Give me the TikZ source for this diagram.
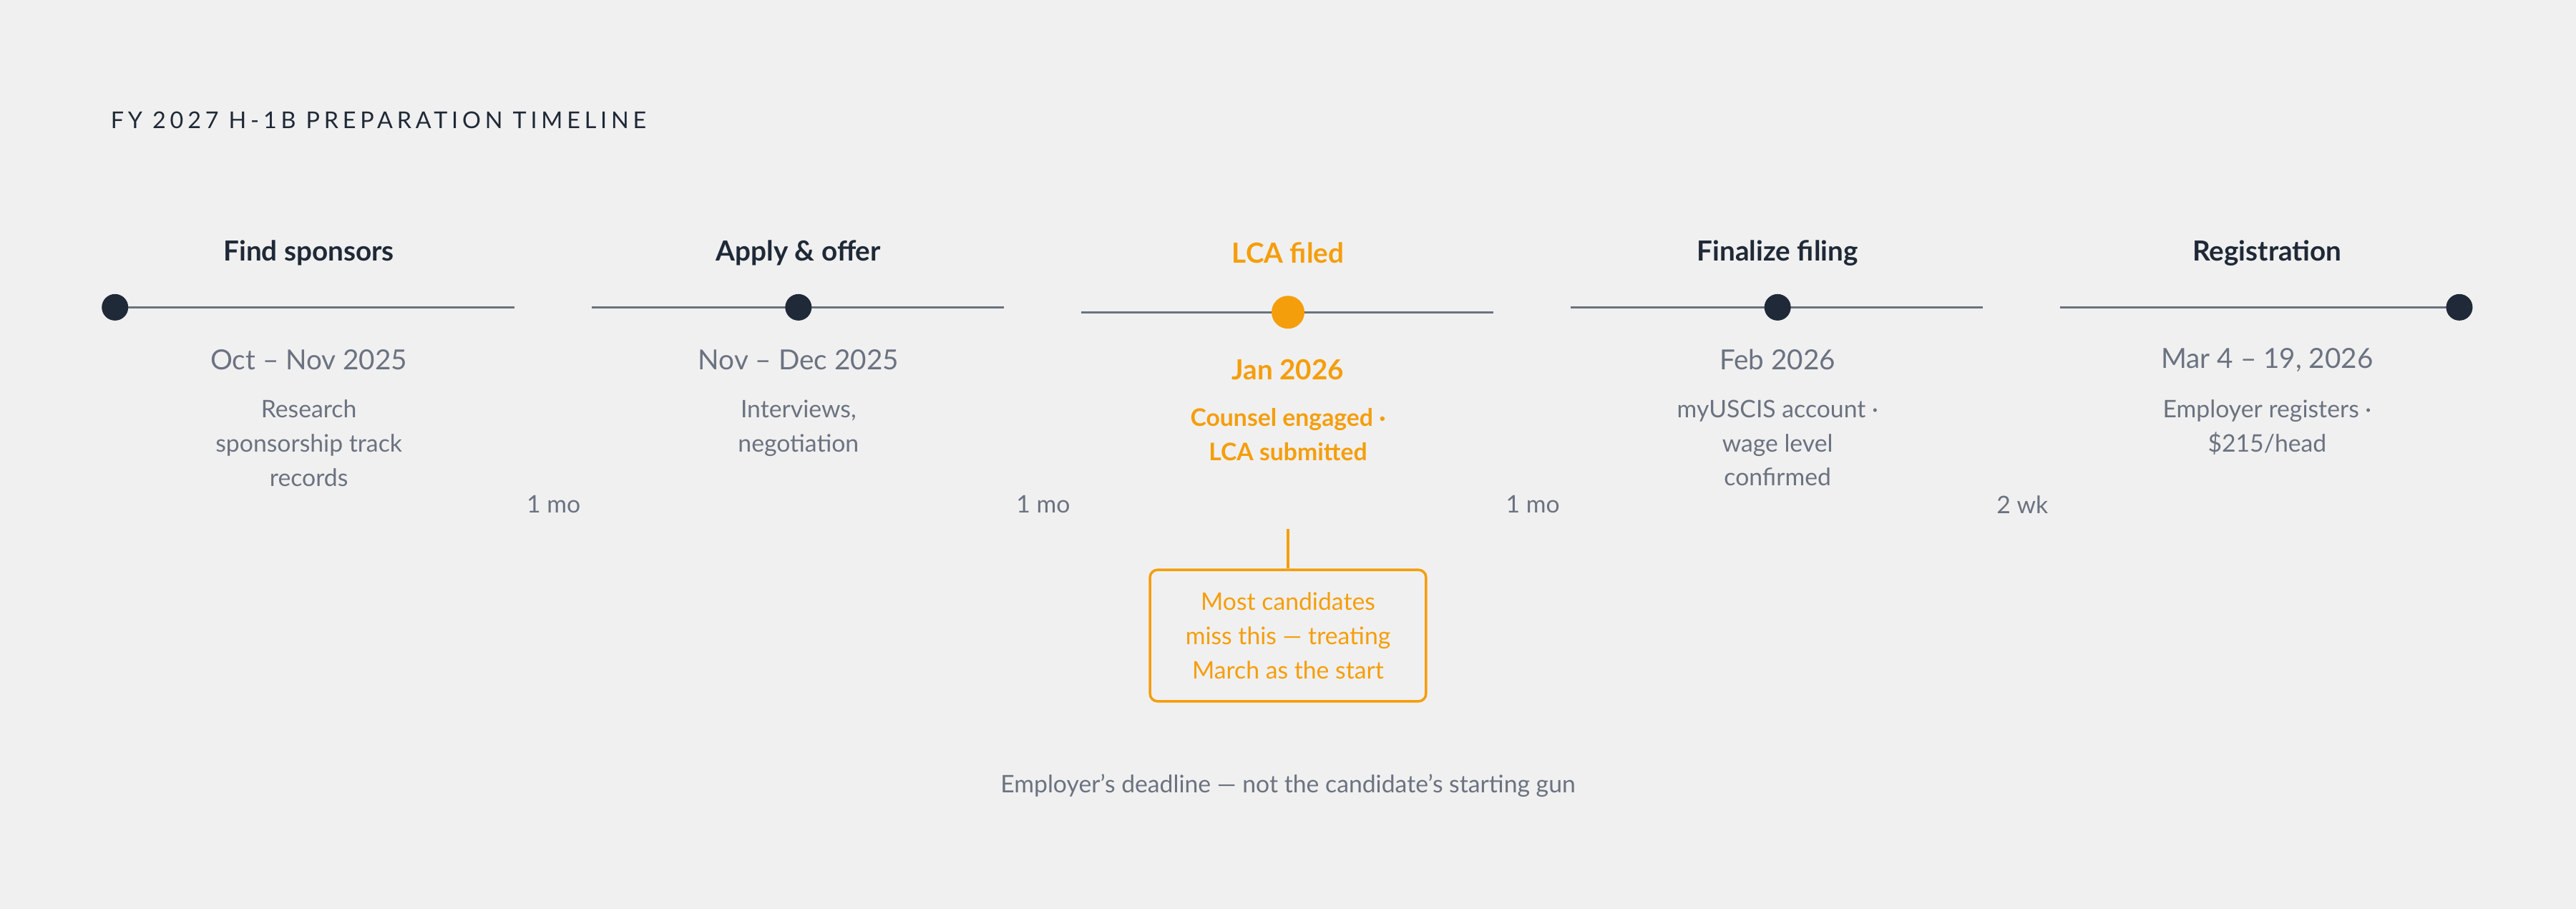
\documentclass[tikz,border=0pt]{standalone}
\usepackage{fontspec}
\setmainfont{Lato}
\usetikzlibrary{positioning}
\definecolor{bg}{HTML}{F0F0F0}
\definecolor{ink}{HTML}{1F2937}
\definecolor{mute}{HTML}{6B7280}
\definecolor{amber}{HTML}{F59E0B}
\begin{document}
\begin{tikzpicture}[x=0.02296cm,y=-0.02296cm,
  dot/.style={circle,fill=ink,inner sep=0pt,minimum size=16\pgflinewidth*0+0.37cm},
  seg/.style={draw=mute,line width=0.9pt},
  head/.style={font=\fontsize{11}{13}\selectfont\bfseries,text=ink},
  when/.style={font=\fontsize{11}{13}\selectfont,text=mute},
  desc/.style={font=\fontsize{9.6}{13.6}\selectfont,text=mute,align=center},
  gap/.style={font=\fontsize{9.6}{12}\selectfont,text=mute}]
  \fill[bg] (0,0) rectangle (1568,553);
  \node[anchor=west,font=\fontsize{9.2}{11}\selectfont\addfontfeature{LetterSpace=18},text=ink] (title) at (62,73) {FY 2027 H-1B PREPARATION TIMELINE};
  % timeline
  \coordinate (s1a) at (70,187);  \coordinate (s1b) at (313,187);
  \coordinate (s2a) at (360,187); \coordinate (s2b) at (611,187);
  \coordinate (s3a) at (658,190); \coordinate (s3b) at (909,190);
  \coordinate (s4a) at (956,187); \coordinate (s4b) at (1207,187);
  \coordinate (s5a) at (1254,187);\coordinate (s5b) at (1497,187);
  \draw[seg] (s1a)--(s1b);
  \draw[seg] (s2a)--(s2b);
  \draw[seg] (s3a)--(s3b);
  \draw[seg] (s4a)--(s4b);
  \draw[seg] (s5a)--(s5b);
  \node[dot] (d1) at (s1a) {};
  \node[dot] (d2) at (486,187) {};
  \node[dot,fill=amber,minimum size=0.46cm] (d3) at (784,190) {};
  \node[dot] (d4) at (1082,187) {};
  \node[dot] (d5) at (s5b) {};
  %
  \node[head] (h1) at (188,154) {Find sponsors};
  \node[head] (h2) at (486,154) {Apply \& offer};
  \node[head,text=amber] (h3) at (784,154) {LCA filed};
  \node[head] (h4) at (1082,154) {Finalize filing};
  \node[head] (h5) at (1380,154) {Registration};
  %
  \node[when] (w1) at (188,219) {Oct – Nov 2025};
  \node[when] (w2) at (486,219) {Nov – Dec 2025};
  \node[when,text=amber,font=\fontsize{11}{13}\selectfont\bfseries] (w3) at (784,225) {Jan 2026};
  \node[when] (w4) at (1082,219) {Feb 2026};
  \node[when] (w5) at (1380,219) {Mar 4 – 19, 2026};
  %
  \node[desc,anchor=north] (t1) at (188,238) {Research\\sponsorship track\\records};
  \node[desc,anchor=north] (t2) at (486,238) {Interviews,\\negotiation};
  \node[desc,anchor=north,text=amber,font=\fontsize{9.6}{13.6}\selectfont\bfseries] (t3) at (784,243) {Counsel engaged ·\\LCA submitted};
  \node[desc,anchor=north] (t4) at (1082,238) {myUSCIS account ·\\wage level\\confirmed};
  \node[desc,anchor=north] (t5) at (1380,238) {Employer registers ·\\\$215/head};
  %
  \node[gap] (g1) at (337,307) {1 mo};
  \node[gap] (g2) at (635,307) {1 mo};
  \node[gap] (g3) at (933,307) {1 mo};
  \node[gap] (g4) at (1231,307) {2 wk};
  %
  \coordinate (pin) at (784,322);
  \node[draw=amber,line width=1pt,rounded corners=3pt,minimum width=168*0.02296cm,minimum height=80*0.02296cm,
        desc,text=amber,anchor=north] (note) at (784,346) {Most candidates\\miss this — treating\\March as the start};
  \draw[amber,line width=1pt] (pin)--(note.north);
  %
  \node[desc] (foot) at (784,478) {Employer's deadline — not the candidate's starting gun};
\end{tikzpicture}
\end{document}
